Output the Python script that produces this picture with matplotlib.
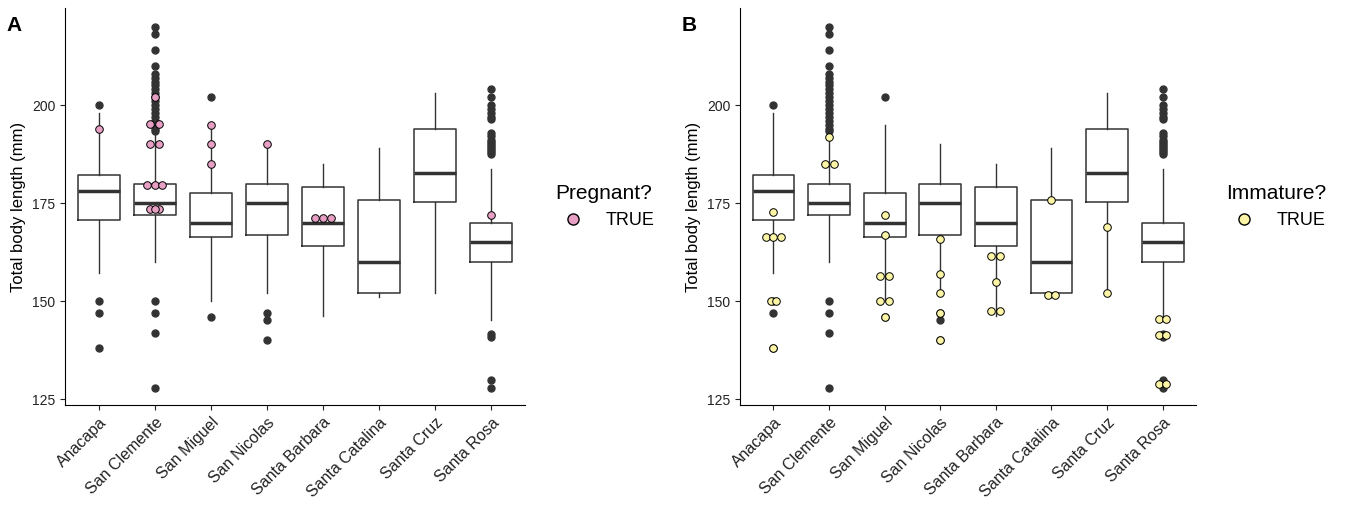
import matplotlib.pyplot as plt
from matplotlib.lines import Line2D

plt.rcParams["font.family"] = ["Liberation Sans", "DejaVu Sans"]

islands = ["Anacapa", "San Clemente", "San Miguel", "San Nicolas",
           "Santa Barbara", "Santa Catalina", "Santa Cruz", "Santa Rosa"]

# box stats: q1, median, q3, lower whisker, upper whisker
q1 = [170.8, 171.9, 166.3, 167.0, 164.0, 152.0, 175.2, 159.9]
med = [178.1, 175.0, 170.0, 175.0, 170.0, 159.9, 182.6, 165.0]
q3 = [182.3, 180.0, 177.7, 180.0, 179.0, 175.9, 194.0, 170.0]
wlo = [157.2, 160.0, 150.1, 152.1, 146.3, 151.1, 152.1, 145.2]
whi = [198.0, 193.2, 194.8, 190.0, 185.0, 189.0, 203.0, 183.8]
outliers = [
    [200, 150, 147.1, 138],
    [220, 218, 214, 210, 208, 207, 206, 205, 204, 203, 202, 201, 200, 199, 198,
     197, 196, 195, 194, 193.5, 150, 147, 142, 128],
    [202, 146],
    [147.1, 145.1, 140],
    [],
    [],
    [],
    [204, 202, 200, 199, 198, 197, 196.5, 193, 192, 191, 190.5, 190, 189.5, 189,
     188.5, 188, 187.5, 141.7, 141, 130, 128],
]

# highlighted points (island index, value)
pregnant_x = [0, 1, 1, 1, 1, 1, 1, 1, 1, 1, 1, 1, 2, 2, 2, 3, 4, 4, 4, 7]
pregnant_y = [194, 202, 195.3, 195.3, 190, 190, 179.6, 179.6, 179.6, 173.4, 173.4,
              173.4, 194.8, 190, 185, 190, 171.1, 171.1, 171.1, 171.9]
pregnant_dx = [0, 0, -0.08, 0.08, -0.08, 0.08, -0.13, 0, 0.13, -0.08, 0.08, 0,
               0, 0, 0, 0, -0.15, 0, 0.15, 0]

immature_x = [0, 0, 0, 0, 0, 0, 0, 1, 1, 1, 2, 2, 2, 2, 2, 2, 2, 3, 3, 3, 3, 3,
              4, 4, 4, 4, 4, 5, 5, 5, 6, 6, 7, 7, 7, 7, 7, 7]
immature_y = [172.8, 166.4, 166.4, 166.4, 150, 150, 138, 191.8, 184.9, 184.9,
              172, 166.9, 156.5, 156.5, 150, 150, 145.9, 165.9, 156.9, 152, 146.9, 140,
              161.5, 161.5, 154.9, 147.4, 147.4, 175.9, 151.5, 151.5, 169, 152,
              145.4, 145.4, 141.5, 141.5, 129, 129]
immature_dx = [0, -0.13, 0, 0.13, -0.05, 0.05, 0, 0, -0.08, 0.08,
               0, 0, -0.08, 0.08, -0.08, 0.08, 0, 0, 0, 0, 0, 0,
               -0.08, 0.08, 0, -0.08, 0.08, 0, -0.06, 0.06, 0, 0,
               -0.06, 0.06, -0.06, 0.06, -0.06, 0.06]

stats = [dict(q1=q1[i], med=med[i], q3=q3[i], whislo=wlo[i], whishi=whi[i],
              fliers=outliers[i], label=islands[i]) for i in range(len(islands))]

dark = "#333333"
fig = plt.figure(figsize=(13.53, 5.11), dpi=100)


def draw_panel(rect, letter, hx, hy, hdx, color, legend_title):
    ax = fig.add_axes(rect)
    ax.bxp(stats, positions=range(1, 9), widths=0.75, showfliers=True,
           boxprops=dict(color=dark, linewidth=1.1),
           whiskerprops=dict(color=dark, linewidth=1.0),
           capprops=dict(linewidth=0),
           medianprops=dict(color=dark, linewidth=2.5),
           flierprops=dict(marker="o", markerfacecolor=dark, markeredgecolor=dark,
                           markersize=5))
    ax.scatter([x + 1 + d for x, d in zip(hx, hdx)], hy, s=30, facecolor=color,
               edgecolor="black", linewidth=0.7, zorder=5)
    ax.set_xlim(0.4, 8.6)
    ax.set_ylim(123.5, 224.7)
    ax.set_yticks([125, 150, 175, 200])
    ax.set_xticks(range(1, 9))
    ax.set_xticklabels(islands, rotation=45, ha="right", rotation_mode="anchor",
                       fontsize=11.5)
    ax.tick_params(axis="y", labelsize=10)
    ax.tick_params(colors="#222222")
    ax.set_ylabel("Total body length (mm)", fontsize=12)
    for s in ["top", "right"]:
        ax.spines[s].set_visible(False)
    h = Line2D([], [], marker="o", linestyle="", markerfacecolor=color,
               markeredgecolor="black", markersize=8)
    leg = ax.legend([h], ["TRUE"], title=legend_title, frameon=False, fontsize=13,
                    title_fontsize=15, loc="center left", bbox_to_anchor=(1.03, 0.5))
    leg._legend_box.align = "left"
    fig.text(rect[0] - 0.043, 0.94, letter, fontsize=15, fontweight="bold")
    return ax


draw_panel([0.048, 0.207, 0.340, 0.777], "A", pregnant_x, pregnant_y, pregnant_dx,
           "#e7a0c4", "Pregnant?")
draw_panel([0.547, 0.207, 0.337, 0.777], "B", immature_x, immature_y, immature_dx,
           "#fbf5a5", "Immature?")

fig.savefig("out.png", dpi=100)
